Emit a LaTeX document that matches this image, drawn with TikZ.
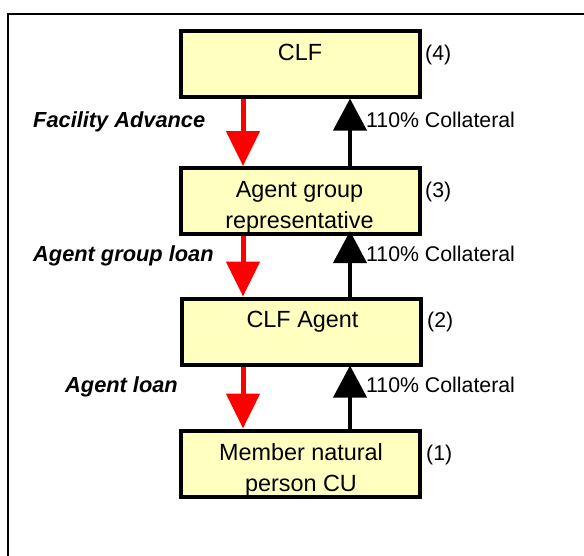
\documentclass[tikz,border=0pt]{standalone}
\usepackage{fontspec}
\setmainfont{Liberation Sans}
\usetikzlibrary{arrows.meta}
\definecolor{boxfill}{RGB}{255,255,192}
\begin{document}
\begin{tikzpicture}[x=1pt,y=-1pt,
  box/.style={draw=black, line width=4pt, fill=boxfill, minimum width=239pt, minimum height=66pt, inner sep=0pt},
  boxtext/.style={font=\fontsize{23.4}{31}\selectfont, align=center, anchor=base, inner sep=0pt},
  sidetext/.style={font=\fontsize{21.3}{25}\selectfont, anchor=base west, inner sep=0pt},
  leftlabel/.style={font=\fontsize{21.8}{25}\selectfont\bfseries\itshape, anchor=base west, inner sep=0pt},
  redarrow/.style={draw=red, fill=red, line width=5pt, -{Triangle[width=33pt,length=35pt]}},
  blackarrow/.style={draw=black, fill=black, line width=4pt, -{Triangle[width=33pt,length=32pt]}},
]
\useasboundingbox (0,0) rectangle (584,555);
\begin{scope}
\clip (0,0) rectangle (584,555);
\draw[line width=2pt, black] (8,14) rectangle (600,570);
\end{scope}

% boxes
\node[box] (clf) at (300,63.5) {};
\node[box] (agr) at (300,201) {};
\node[box] (agt) at (301.5,331.5) {};
\node[box] (mem) at (300.5,463.5) {};

% box texts (base anchor = last line's baseline)
\node[boxtext] (clft) at (300,60) {CLF};
\node[boxtext] (agrt) at (299.5,228) {Agent group\\representative};
\node[boxtext] (agtt) at (302.5,327) {CLF Agent};
\node[boxtext] (memt) at (301,491) {Member natural\\person CU};

% numbers
\node[sidetext] (n4) at (425,60) {(4)};
\node[sidetext] (n3) at (425,197) {(3)};
\node[sidetext] (n2) at (427,327) {(2)};
\node[sidetext] (n1) at (426,460) {(1)};

% arrow columns
\coordinate (rx) at (243,0);
\coordinate (bx) at (350,0);

\draw[redarrow] (clf.south -| rx) -- (agr.north -| rx);
\draw[redarrow] (agr.south -| rx) -- (agt.north -| rx);
\draw[redarrow] (agt.south -| rx) -- (mem.north -| rx);

\draw[blackarrow] (agr.north -| bx) -- (clf.south -| bx);
\draw[blackarrow, shorten >=-5pt] (agt.north -| bx) -- (agr.south -| bx);
\draw[blackarrow, shorten >=-1pt] (mem.north -| bx) -- (agt.south -| bx);

% collateral labels
\node[sidetext] (c1) at (366,127) {110\% Collateral};
\node[sidetext] (c2) at (366,261) {110\% Collateral};
\node[sidetext] (c3) at (366,392) {110\% Collateral};

% left labels
\node[leftlabel] (l1) at (33,127) {Facility Advance};
\node[leftlabel] (l2) at (33,261) {Agent group loan};
\node[leftlabel] (l3) at (65,392) {Agent loan};
\end{tikzpicture}
\end{document}
